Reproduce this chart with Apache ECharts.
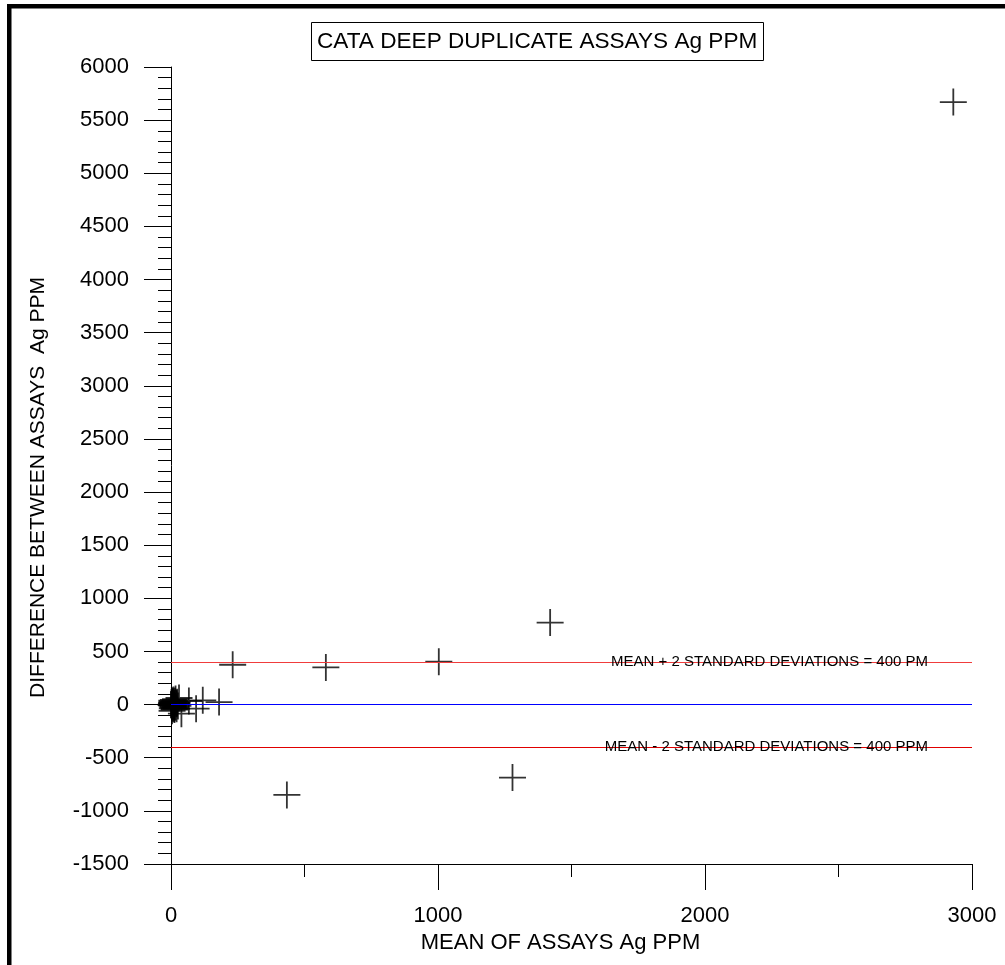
<!DOCTYPE html>
<html>
<head>
<meta charset="utf-8">
<script src="https://cdn.jsdelivr.net/npm/echarts@6/dist/echarts.min.js"></script>
<style>
html,body{margin:0;padding:0;background:#fff;}
#chart{width:1005px;height:965px;}
</style>
</head>
<body>
<div id="chart"></div>
<script>
// ---- data ----
const titleText = 'CATA DEEP DUPLICATE ASSAYS Ag PPM';
const xAxisName = 'MEAN OF ASSAYS Ag PPM';
const yAxisName = 'DIFFERENCE BETWEEN ASSAYS  Ag PPM';

// mean of assays (x) and difference between assays (y)
const meanAssays = [
  0.5, 1, 2, 3, 4, 5, 6, 7, 8, 9, 10, 11, 12, 14, 15, 17, 19, 21, 23, 26,
  3, 5, 9, 13, 17, 4, 2, 6, 11, 22,
  30, 39, 67, 94, 119, 180, 231, 580, 1003, 434, 1279, 1420, 2930
];
const diffAssays = [
  0, -4, 6, -10, 12, -2, 18, -16, 3, -24, 26, -7, 10, -30, 34, -20, 15, -38, 22, -12,
  38, -34, 44, -46, 52, -58, 20, 30, -40, 8,
  62, -85, 34, -38, 40, 24, 375, 350, 404, -850, -687, 772, 5670
];

// reference lines
const refValues = [400, 0, -400];
const refLabels = ['MEAN + 2 STANDARD DEVIATIONS = 400 PM', '', 'MEAN - 2 STANDARD DEVIATIONS = 400 PPM'];
const refColors = ['#f03c3c', '#0000ff', '#e00000'];

// axes
const xMin = 0, xMax = 3000, xInterval = 1000;
const yMin = -1500, yMax = 6000, yInterval = 500;

const FONT = "'Liberation Sans', Arial, sans-serif";

const points = meanAssays.map((x, i) => [x, diffAssays[i]]);

const chart = echarts.init(document.getElementById('chart'), null, {renderer: 'canvas'});

const plain = v => String(v);

const option = {
  backgroundColor: '#ffffff',
  animation: false,
  title: {
    text: titleText,
    left: 311,
    top: 22,
    padding: [8, 6, 8, 6],
    borderColor: '#000',
    borderWidth: 1,
    textStyle: {fontFamily: FONT, fontSize: 22.6, fontWeight: 'normal', color: '#000'}
  },
  graphic: [
    {type: 'rect', shape: {x: 7, y: 4, width: 998, height: 4.5}, style: {fill: '#000'}, silent: true},
    {type: 'rect', shape: {x: 7, y: 4, width: 4.5, height: 961}, style: {fill: '#000'}, silent: true}
  ],
  grid: {left: 171, right: 33, top: 67, bottom: 101, containLabel: false},
  xAxis: {
    type: 'value',
    min: xMin, max: xMax, interval: xInterval,
    name: xAxisName,
    nameLocation: 'middle',
    nameGap: 64,
    nameTextStyle: {fontFamily: FONT, fontSize: 22, color: '#000', padding: [0, 22, 0, 0]},
    axisLine: {show: true, onZero: false, lineStyle: {color: '#000', width: 1}},
    axisTick: {show: true, length: 26, lineStyle: {color: '#000', width: 1}},
    minorTick: {show: true, splitNumber: 2, length: 13, lineStyle: {color: '#000', width: 1}},
    axisLabel: {fontFamily: FONT, fontSize: 22, color: '#000', margin: 41, formatter: plain},
    splitLine: {show: false},
    minorSplitLine: {show: false}
  },
  yAxis: {
    type: 'value',
    min: yMin, max: yMax, interval: yInterval,
    name: yAxisName,
    nameLocation: 'middle',
    nameGap: 122,
    nameRotate: 90,
    nameTextStyle: {fontFamily: FONT, fontSize: 21, color: '#000', padding: [0, 44, 0, 0]},
    axisLine: {show: true, onZero: false, lineStyle: {color: '#000', width: 1}},
    axisTick: {show: true, length: 27, lineStyle: {color: '#000', width: 1}},
    minorTick: {show: true, splitNumber: 5, length: 13, lineStyle: {color: '#000', width: 1}},
    axisLabel: {fontFamily: FONT, fontSize: 22, color: '#000', margin: 42, formatter: plain},
    splitLine: {show: false},
    minorSplitLine: {show: false}
  },
  series: [
    {
      type: 'scatter',
      data: points,
      symbol: 'path://M0,-10 L0,10 M-10,0 L10,0',
      symbolSize: 27,
      itemStyle: {color: 'rgba(0,0,0,0)', borderColor: '#000', borderWidth: 1.8},
      silent: true,
      z: 3,
      markLine: {
        silent: true,
        symbol: 'none',
        animation: false,
        precision: 0,
        data: refValues.map((v, i) => ({
          yAxis: v,
          lineStyle: {color: refColors[i], width: 1.2, type: 'solid'},
          label: {
            show: refLabels[i] !== '',
            formatter: refLabels[i],
            position: 'insideEnd',
            distance: 0,
            padding: [0, 44, 0, 0],
            fontFamily: FONT,
            fontSize: 15,
            color: '#000'
          }
        }))
      }
    }
  ]
};

chart.setOption(option);
</script>
</body>
</html>
